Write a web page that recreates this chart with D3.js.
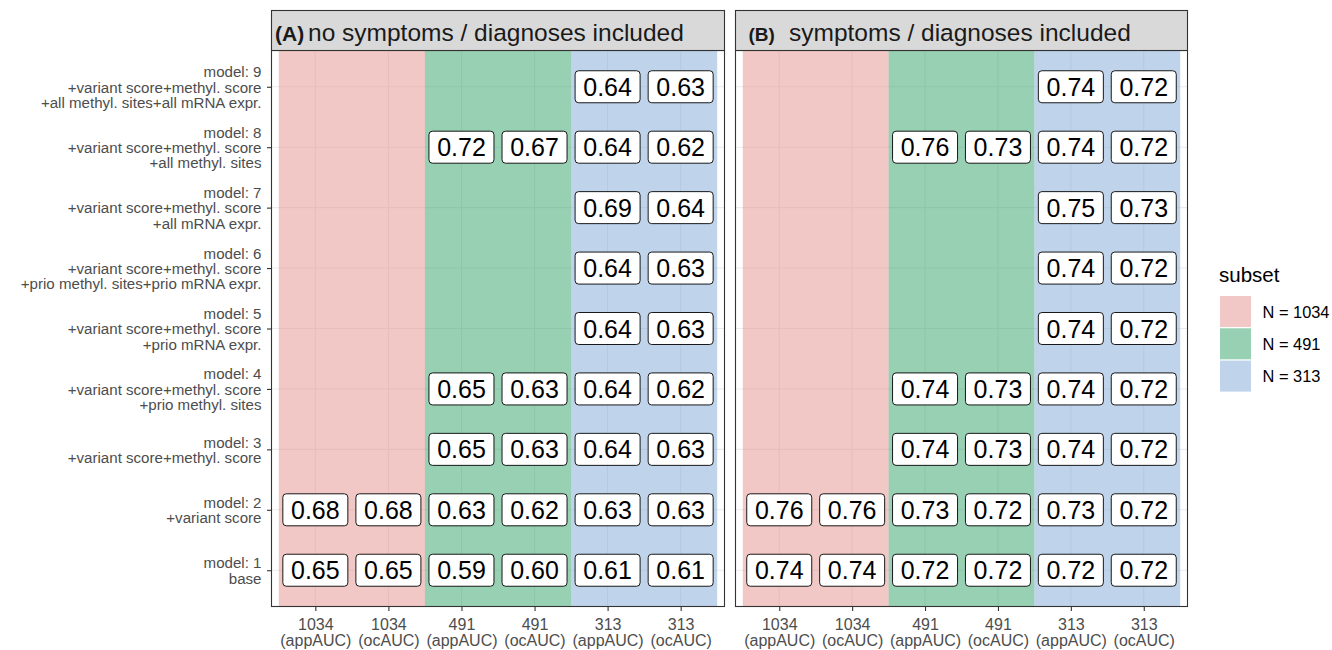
<!DOCTYPE html>
<html>
<head>
<meta charset="utf-8">
<script src="https://cdn.jsdelivr.net/npm/d3@7"></script>
<style>
  html, body { margin: 0; padding: 0; background: #ffffff; }
  svg { display: block; font-family: "Liberation Sans", Arial, sans-serif; }
</style>
</head>
<body>
<svg id="chart" width="1332" height="650"></svg>
<script>
// ---------------- data ----------------
const models = [1, 2, 3, 4, 5, 6, 7, 8, 9];
const modelLabels = [
  ["model: 1", "base"],
  ["model: 2", "+variant score"],
  ["model: 3", "+variant score+methyl. score"],
  ["model: 4", "+variant score+methyl. score", "+prio methyl. sites"],
  ["model: 5", "+variant score+methyl. score", "+prio mRNA expr."],
  ["model: 6", "+variant score+methyl. score", "+prio methyl. sites+prio mRNA expr."],
  ["model: 7", "+variant score+methyl. score", "+all mRNA expr."],
  ["model: 8", "+variant score+methyl. score", "+all methyl. sites"],
  ["model: 9", "+variant score+methyl. score", "+all methyl. sites+all mRNA expr."]
];
const columns = [1, 2, 3, 4, 5, 6];
const columnLabels = [
  ["1034", "(appAUC)"], ["1034", "(ocAUC)"],
  ["491", "(appAUC)"], ["491", "(ocAUC)"],
  ["313", "(appAUC)"], ["313", "(ocAUC)"]
];
const subsets = ["N = 1034", "N = 491", "N = 313"];
const subsetColumns = [[1, 2], [3, 4], [5, 6]];
const subsetColors = ["#E3918B", "#31A169", "#7FA7D5"];

const panelTags = ["(A)", "(B)"];
const panelTitles = ["no symptoms / diagnoses included", "symptoms / diagnoses included"];

// rows: model 1 .. model 9; columns: 1034 app, 1034 oc, 491 app, 491 oc, 313 app, 313 oc
const aucA = [
  [0.65, 0.65, 0.59, 0.60, 0.61, 0.61],
  [0.68, 0.68, 0.63, 0.62, 0.63, 0.63],
  [null, null, 0.65, 0.63, 0.64, 0.63],
  [null, null, 0.65, 0.63, 0.64, 0.62],
  [null, null, null, null, 0.64, 0.63],
  [null, null, null, null, 0.64, 0.63],
  [null, null, null, null, 0.69, 0.64],
  [null, null, 0.72, 0.67, 0.64, 0.62],
  [null, null, null, null, 0.64, 0.63]
];
const aucB = [
  [0.74, 0.74, 0.72, 0.72, 0.72, 0.72],
  [0.76, 0.76, 0.73, 0.72, 0.73, 0.72],
  [null, null, 0.74, 0.73, 0.74, 0.72],
  [null, null, 0.74, 0.73, 0.74, 0.72],
  [null, null, null, null, 0.74, 0.72],
  [null, null, null, null, 0.74, 0.72],
  [null, null, null, null, 0.75, 0.73],
  [null, null, 0.76, 0.73, 0.74, 0.72],
  [null, null, null, null, 0.74, 0.72]
];
const panelData = [aucA, aucB];

// ---------------- layout ----------------
const svg = d3.select("#chart");
const panelTop = 50.5, panelBottom = 606.5;
const stripTop = 10.5;
const panels = [
  { x0: 271.5, x1: 724.5 },
  { x0: 735.5, x1: 1187.5 }
];
const y = d3.scaleLinear().domain([0.4, 9.6]).range([panelBottom, panelTop]);
const fillColor = d3.scaleOrdinal().domain(subsets).range(subsetColors);

panels.forEach((p, pi) => {
  const x = d3.scaleLinear().domain([0.4, 6.6]).range([p.x0, p.x1]);
  const g = svg.append("g");

  // panel background
  g.append("rect").attr("x", p.x0).attr("y", panelTop)
    .attr("width", p.x1 - p.x0).attr("height", panelBottom - panelTop)
    .attr("fill", "#ffffff");

  // grid lines
  g.selectAll(".vgrid").data(columns).join("line")
    .attr("x1", d => x(d)).attr("x2", d => x(d))
    .attr("y1", panelTop).attr("y2", panelBottom)
    .attr("stroke", "#EBEBEB").attr("stroke-width", 1.1);
  g.selectAll(".hgrid").data(models).join("line")
    .attr("y1", d => y(d)).attr("y2", d => y(d))
    .attr("x1", p.x0).attr("x2", p.x1)
    .attr("stroke", "#EBEBEB").attr("stroke-width", 1.1);

  // subset bands
  g.selectAll(".band").data(subsets).join("rect")
    .attr("x", (d, i) => x(subsetColumns[i][0] - 0.5))
    .attr("width", (d, i) => x(subsetColumns[i][1] + 0.5) - x(subsetColumns[i][0] - 0.5))
    .attr("y", panelTop).attr("height", panelBottom - panelTop)
    .attr("fill", d => fillColor(d)).attr("fill-opacity", 0.5);

  // labels
  const cells = [];
  panelData[pi].forEach((row, ri) => row.forEach((v, ci) => {
    if (v !== null) cells.push({ model: models[ri], col: columns[ci], v });
  }));
  const lab = g.selectAll(".lab").data(cells).join("g")
    .attr("transform", d => `translate(${x(d.col)},${y(d.model)})`);
  lab.append("rect")
    .attr("x", -32.5).attr("y", -16).attr("width", 65).attr("height", 32)
    .attr("rx", 3.5).attr("ry", 3.5)
    .attr("fill", "#ffffff").attr("stroke", "#000000").attr("stroke-width", 0.9);
  lab.append("text")
    .attr("text-anchor", "middle").attr("y", 9)
    .attr("font-size", 25).attr("fill", "#000000")
    .text(d => d3.format(".2f")(d.v));

  // panel border
  g.append("rect").attr("x", p.x0).attr("y", panelTop)
    .attr("width", p.x1 - p.x0).attr("height", panelBottom - panelTop)
    .attr("fill", "none").attr("stroke", "#333333").attr("stroke-width", 1.1);

  // strip
  g.append("rect").attr("x", p.x0).attr("y", stripTop)
    .attr("width", p.x1 - p.x0).attr("height", panelTop - stripTop)
    .attr("fill", "#D9D9D9").attr("stroke", "#333333").attr("stroke-width", 1.1);
  const tagX = pi === 0 ? p.x0 + 3.5 : p.x0 + 13;
  const titleX = pi === 0 ? p.x0 + 36.5 : p.x0 + 53.5;
  g.append("text").attr("x", tagX).attr("y", 41)
    .attr("font-size", pi === 0 ? 21 : 19).attr("font-weight", "bold").attr("fill", "#1A1A1A")
    .text(panelTags[pi]);
  g.append("text").attr("x", titleX).attr("y", 40.5)
    .attr("font-size", 24.5).attr("fill", "#1A1A1A")
    .text(panelTitles[pi]);

  // x axis
  const xAxis = d3.axisBottom(x).tickValues(columns).tickSize(4.5).tickSizeOuter(0)
    .tickFormat(() => "");
  const xa = g.append("g").attr("transform", `translate(0,${panelBottom})`).call(xAxis);
  xa.select(".domain").remove();
  xa.selectAll(".tick line").attr("stroke", "#333333").attr("stroke-width", 1.1);
  xa.selectAll(".tick text").each(function(d) {
    const t = d3.select(this).attr("y", 0).attr("dy", null)
      .attr("fill", "#4D4D4D").attr("font-size", 16)
      .attr("font-family", "Liberation Sans, Arial, sans-serif");
    columnLabels[d - 1].forEach((s, k) => {
      t.append("tspan").attr("x", 0).attr("y", 23.5 + k * 15.7).text(s);
    });
  });

  // y axis (left panel only gets labels)
  if (pi === 0) {
    const yAxis = d3.axisLeft(y).tickValues(models).tickSize(4.5).tickSizeOuter(0)
      .tickPadding(5).tickFormat(() => "");
    const ya = g.append("g").attr("transform", `translate(${p.x0},0)`).call(yAxis);
    ya.select(".domain").remove();
    ya.selectAll(".tick line").attr("stroke", "#333333").attr("stroke-width", 1.1);
    ya.selectAll(".tick text").each(function(d) {
      const lines = modelLabels[d - 1];
      const t = d3.select(this).attr("dy", null)
        .attr("fill", "#4D4D4D").attr("font-size", 15.1)
        .attr("font-family", "Liberation Sans, Arial, sans-serif");
      const pitch = 15.3;
      lines.forEach((s, k) => {
        const off = (k - (lines.length - 1) / 2) * pitch + 5.3;
        t.append("tspan").attr("x", -10).attr("y", off).text(s);
      });
    });
  }
});

// ---------------- legend ----------------
const leg = svg.append("g").attr("transform", "translate(1220,0)");
leg.append("text").attr("x", -1).attr("y", 282)
  .attr("font-size", 20.5).attr("fill", "#000000").text("subset");
const items = leg.selectAll(".item").data(subsets).join("g")
  .attr("transform", (d, i) => `translate(0,${296 + i * 32.3})`);
items.append("rect").attr("width", 31).attr("height", 31)
  .attr("fill", d => fillColor(d)).attr("fill-opacity", 0.5);
items.append("text").attr("x", 42.5).attr("y", 15.5 + 6)
  .attr("font-size", 16.4).attr("fill", "#000000").text(d => d);
</script>
</body>
</html>
